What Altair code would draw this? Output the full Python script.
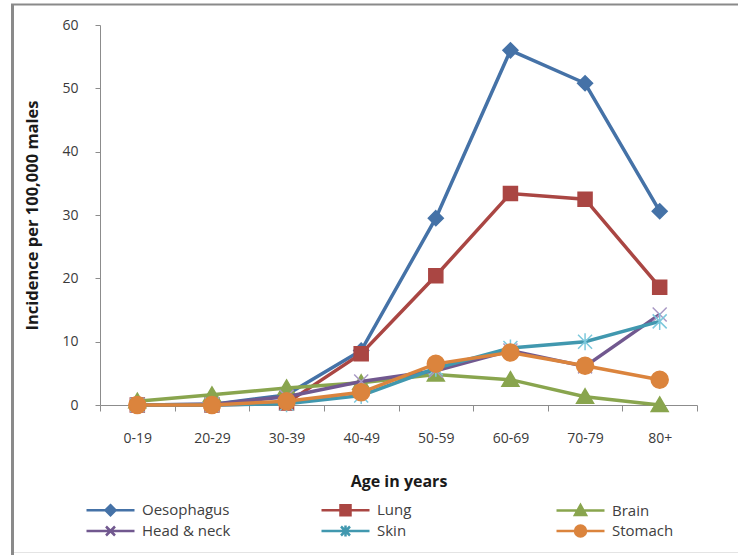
import altair as alt
import pandas as pd

# Age bands (x axis) and series names in drawing order
ages = ["0-19", "20-29", "30-39", "40-49", "50-59", "60-69", "70-79", "80+"]
series_names = ["Oesophagus", "Lung", "Brain", "Head & neck", "Skin", "Stomach"]

# Incidence per 100,000 males, one list per cancer site
oesophagus = [0.0, 0.1, 1.6, 8.6, 29.5, 56.0, 50.8, 30.6]
lung = [0.0, 0.0, 0.3, 8.1, 20.4, 33.4, 32.5, 18.6]
brain = [0.6, 1.6, 2.7, 3.5, 4.8, 4.0, 1.3, 0.0]
head_neck = [0.0, 0.1, 1.3, 3.7, 5.4, 8.6, 6.1, 14.3]
skin = [0.0, 0.0, 0.2, 1.5, 5.8, 9.0, 10.0, 13.2]
stomach = [0.0, 0.0, 0.6, 2.0, 6.5, 8.3, 6.2, 4.0]

y_ticks = [0, 10, 20, 30, 40, 50, 60]

series_values = [oesophagus, lung, brain, head_neck, skin, stomach]

rows = [
    {"age": a, "series": s, "value": v}
    for s, vals in zip(series_names, series_values)
    for a, v in zip(ages, vals)
]
df = pd.DataFrame(rows)

# Styling
FONT = "Open Sans"
colors = ["#4572A7", "#AA4643", "#89A54E", "#71588F", "#4198AF", "#DB843D"]
marker_strokes = ["#4572A7", "#AA4643", "#89A54E", "#A898C4", "#7CC8DC", "#DB843D"]

# Marker outlines for the plot (unit = 5 px at size 100)
plot_shapes = [
    "M0,-1.5L1.5,0L0,1.5L-1.5,0Z",
    "M-1.4,-1.4H1.4V1.4H-1.4Z",
    "M0,-1.6L1.7,1.3L-1.7,1.3Z",
    "M-1.4,-1.4L1.4,1.4M-1.4,1.4L1.4,-1.4",
    "M-1.4,-1.4L1.4,1.4M-1.4,1.4L1.4,-1.4M0,-1.7V1.7",
    "M-1.7,0A1.7,1.7,0,1,0,1.7,0A1.7,1.7,0,1,0,-1.7,0Z",
]

# Legend symbols: a short line segment with the marker on it
seg = "M-4.8,0H4.8"
legend_shapes = [
    seg + "M0,-1L1,0L0,1L-1,0Z",
    seg + "M-1,-1H1V1H-1Z",
    seg + "M0,-1.1L1.1,0.9L-1.1,0.9Z",
    seg + "M-0.9,-0.9L0.9,0.9M-0.9,0.9L0.9,-0.9",
    seg + "M-0.9,-0.9L0.9,0.9M-0.9,0.9L0.9,-0.9M0,-1.1V1.1",
    seg + "M-1.1,0A1.1,1.1,0,1,0,1.1,0A1.1,1.1,0,1,0,-1.1,0Z",
]

x_enc = alt.X(
    "age:N",
    sort=ages,
    scale=alt.Scale(type="band", domain=ages, paddingInner=0, paddingOuter=0),
    axis=alt.Axis(
        title="Age in years",
        labelAngle=0,
        tickBand="extent",
        tickSize=6,
        labelPadding=20,
        titlePadding=28,
        titleFontSize=16,
        labelFontSize=14,
    ),
)
y_enc = alt.Y(
    "value:Q",
    scale=alt.Scale(domain=[0, 60], nice=False, zero=True),
    axis=alt.Axis(
        title="Incidence per 100,000 males",
        values=y_ticks,
        tickSize=5,
        labelPadding=17,
        titlePadding=21,
        titleFontSize=16.5,
        labelFontSize=14,
    ),
)

base = alt.Chart(df)

layers = []
for i, name in enumerate(series_names):
    sub = base.transform_filter(alt.datum.series == name)
    layers.append(
        sub.mark_line(color=colors[i], strokeWidth=3.5).encode(x=x_enc, y=y_enc)
    )
    layers.append(
        sub.mark_point(
            shape=plot_shapes[i],
            size=100,
            filled=True,
            fill=colors[i],
            stroke=marker_strokes[i],
            strokeWidth=1.5,
            opacity=1,
        ).encode(x=x_enc, y=y_enc)
    )

legend_def = alt.Legend(
    title=None,
    orient="none",
    direction="horizontal",
    legendX=3,
    legendY=477.5,
    columns=3,
    gridAlign="all",
    columnPadding=85,
    rowPadding=0,
    symbolSize=100,
    symbolStrokeWidth=2.5,
    symbolOpacity=1,
    labelOffset=24,
    labelFont=FONT,
    labelFontSize=15,
    labelColor="#404040",
    labelLimit=200,
)

# Legend-only layer: no rows are drawn, the explicit domains build the entries
legend_layer = base.transform_filter("false").mark_point(
    filled=True, size=100, strokeWidth=2.5, opacity=1
).encode(
    x=x_enc,
    y=y_enc,
    fill=alt.Fill("series:N", scale=alt.Scale(domain=series_names, range=colors), legend=legend_def),
    stroke=alt.Stroke("series:N", scale=alt.Scale(domain=series_names, range=colors), legend=legend_def),
    shape=alt.Shape("series:N", scale=alt.Scale(domain=series_names, range=legend_shapes), legend=legend_def),
)

# Outer frame of the figure
one = alt.Data(values=[{}])
frame_left = alt.Chart(one).mark_rule(color="#8a8a8a", strokeWidth=3).encode(
    x=alt.value(-87.5), y=alt.value(-21), y2=alt.value(530)
)
frame_top = alt.Chart(one).mark_rule(color="#8a8a8a", strokeWidth=2).encode(
    x=alt.value(-89), x2=alt.value(638), y=alt.value(-20.5)
)
frame_bottom = alt.Chart(one).mark_rule(color="#e4e4e4", strokeWidth=1).encode(
    x=alt.value(-86), x2=alt.value(638), y=alt.value(527.5)
)

chart = (
    alt.layer(*layers, legend_layer, frame_left, frame_top, frame_bottom)
    .properties(
        width=597,
        height=380,
        padding={"left": 100, "top": 25, "right": 41, "bottom": 150},
        autosize=alt.AutoSizeParams(type="none"),
        background="white",
    )
    .configure_view(stroke=None)
    .configure_axis(
        grid=False,
        domainColor="#8c8c8c",
        tickColor="#8c8c8c",
        labelFont=FONT,
        labelColor="#3a3a3a",
        titleFont=FONT,
        titleFontWeight="bold",
        titleColor="#1a1a1a",
    )
)

chart.save("out.html", embed_options={"renderer": "svg", "actions": False})
